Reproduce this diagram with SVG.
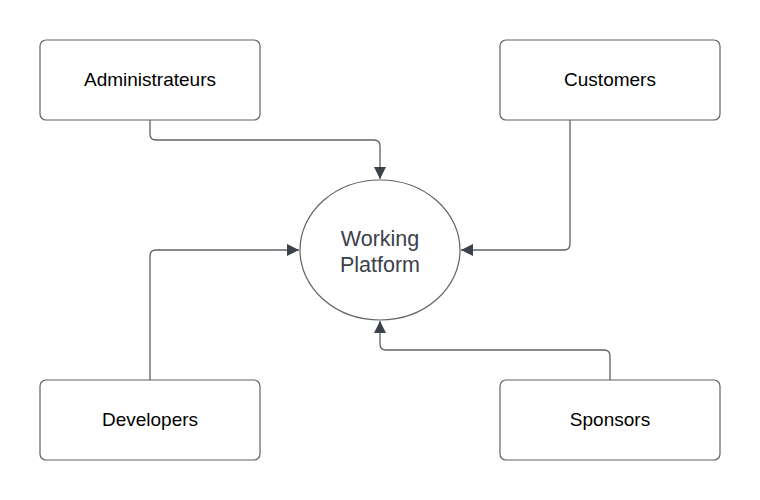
<svg xmlns="http://www.w3.org/2000/svg" width="760" height="500" viewBox="0 0 760 500">
<style>
.box{fill:#fff;stroke:#5e6168;stroke-width:1.2}
.lbl{font-family:"Liberation Sans",Arial,sans-serif;font-size:19px;fill:#000;text-anchor:middle;dominant-baseline:central}
.clbl{font-family:"Liberation Sans",Arial,sans-serif;font-size:21.5px;fill:#3a414a;text-anchor:middle}
.edge{fill:none;stroke:#5e6168;stroke-width:1.3}
</style>
<defs>
<marker id="arr" viewBox="0 0 12 12" refX="12" refY="6" markerWidth="12" markerHeight="12" markerUnits="userSpaceOnUse" orient="auto">
<path d="M0,0 L12,6 L0,12 z" fill="#3a414a"/>
</marker>
</defs>
<rect width="760" height="500" fill="#fff"/>
<g id="connectors">
<path class="edge" d="M150,120 V134 Q150,140 156,140 H374 Q380,140 380,146 V179" marker-end="url(#arr)"/>
<path class="edge" d="M570,120 V244 Q570,250 564,250 H461" marker-end="url(#arr)"/>
<path class="edge" d="M150,380 V256 Q150,250 156,250 H299" marker-end="url(#arr)"/>
<path class="edge" d="M610,380 V356 Q610,350 604,350 H386 Q380,350 380,344 V321" marker-end="url(#arr)"/>
</g>
<g id="admin">
<rect class="box" x="40" y="40" width="220" height="80" rx="6"/>
<text class="lbl" x="150" y="79">Administrateurs</text>
</g>
<g id="customers">
<rect class="box" x="500" y="40" width="220" height="80" rx="6"/>
<text class="lbl" x="610" y="79">Customers</text>
</g>
<g id="developers">
<rect class="box" x="40" y="380" width="220" height="80" rx="6"/>
<text class="lbl" x="150" y="419">Developers</text>
</g>
<g id="sponsors">
<rect class="box" x="500" y="380" width="220" height="80" rx="6"/>
<text class="lbl" x="610" y="419">Sponsors</text>
</g>
<g id="platform">
<ellipse class="box" cx="380" cy="250" rx="80" ry="70"/>
<text class="clbl" x="380" y="246">Working</text>
<text class="clbl" x="380" y="272">Platform</text>
</g>
</svg>
